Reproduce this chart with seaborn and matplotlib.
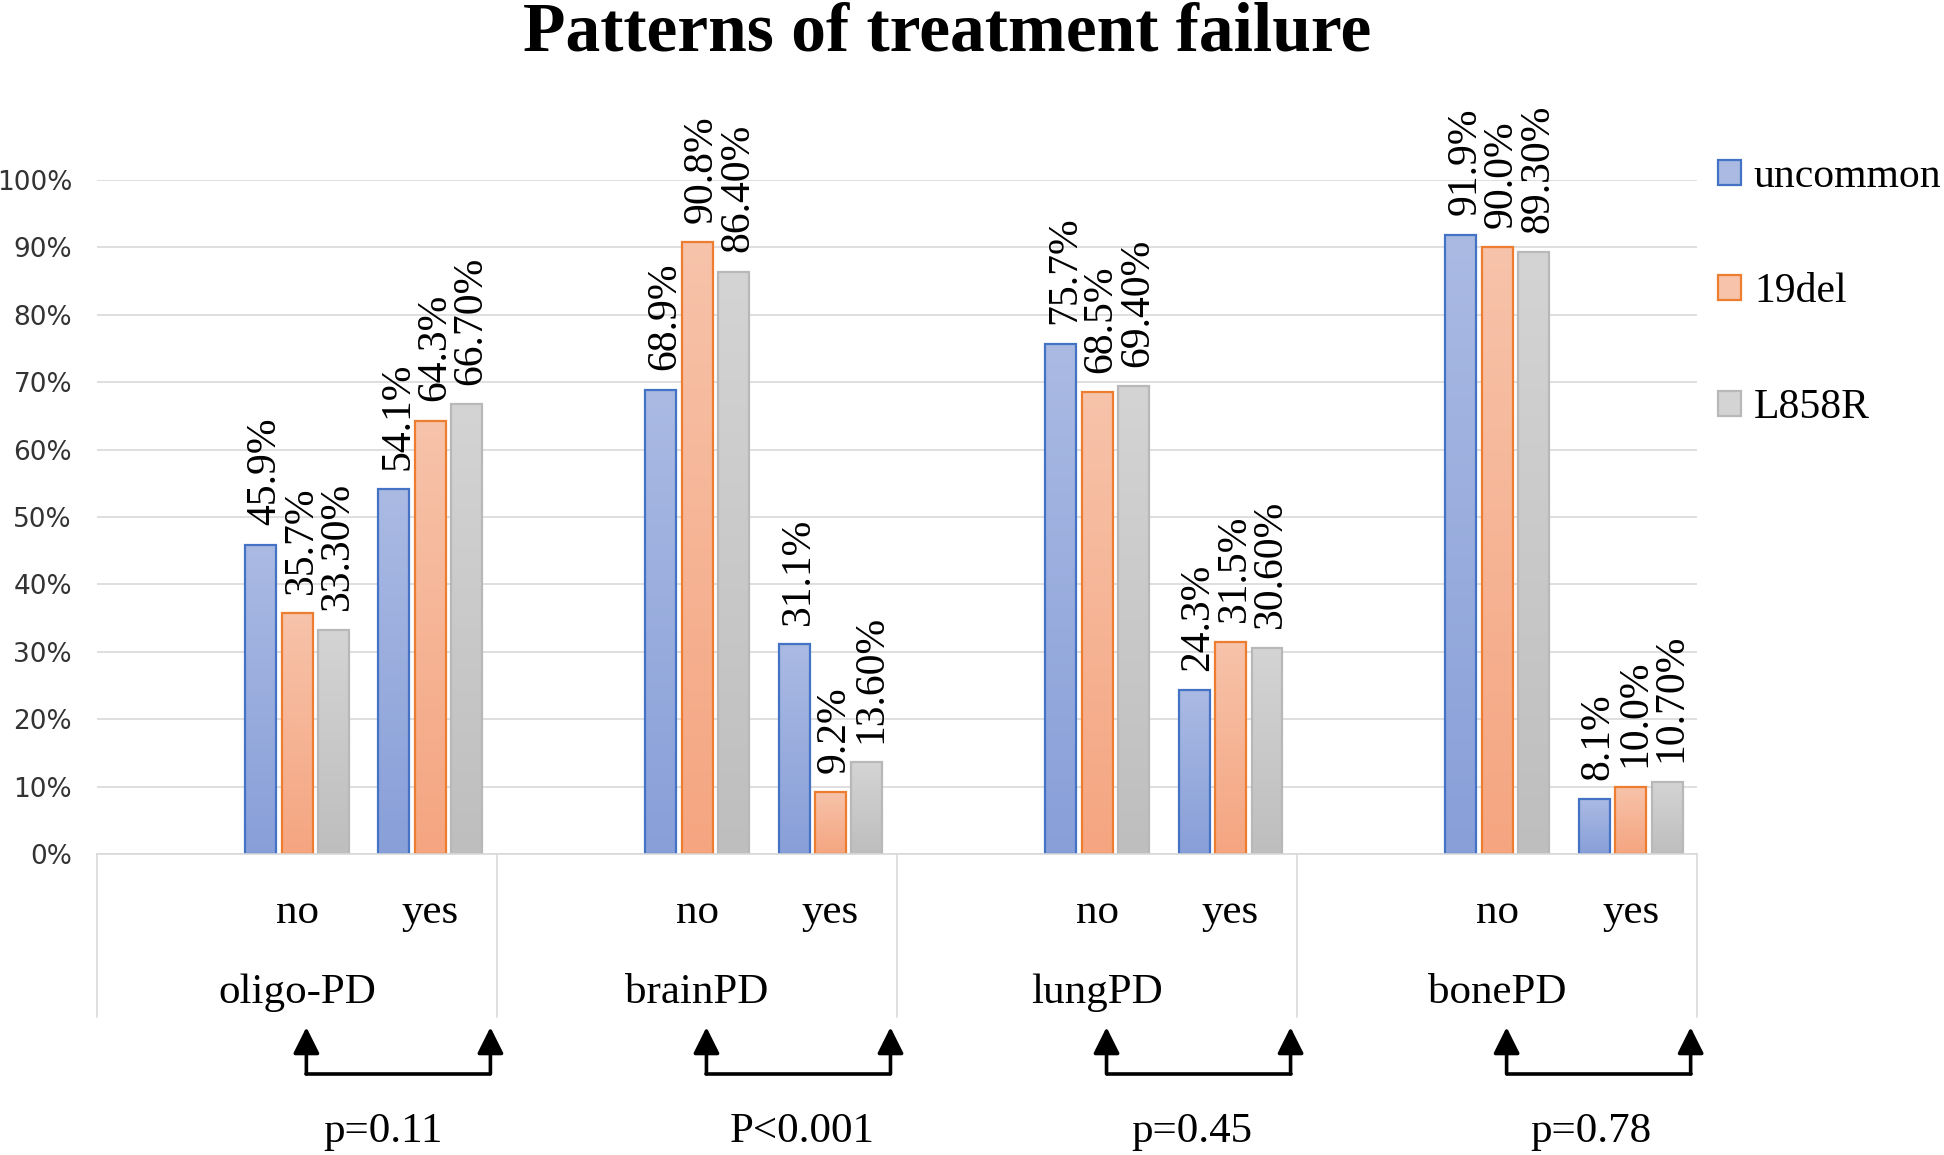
import numpy as np
import pandas as pd
import matplotlib
matplotlib.use("Agg")
import matplotlib.pyplot as plt
import seaborn as sns
from matplotlib.patches import Patch
from matplotlib.colors import LinearSegmentedColormap
from matplotlib.transforms import blended_transform_factory

# ---------------- data ----------------
groups = ["oligo-PD", "brainPD", "lungPD", "bonePD"]
subcats = ["no", "yes"]
series = ["uncommon", "19del", "L858R"]
uncommon = [45.9, 54.1, 68.9, 31.1, 75.7, 24.3, 91.9, 8.1]
del19 = [35.7, 64.3, 90.8, 9.2, 68.5, 31.5, 90.0, 10.0]
l858r = [33.3, 66.7, 86.4, 13.6, 69.4, 30.6, 89.3, 10.7]
label_decimals = [1, 1, 2]
p_labels = ["p=0.11", "P<0.001", "p=0.45", "p=0.78"]
yticks = [0, 10, 20, 30, 40, 50, 60, 70, 80, 90, 100]
title = "Patterns of treatment failure"

# colours: (top of gradient, bottom of gradient, edge)
grad_cols = [("#AABAE3", "#889FD8", "#4472C4"),
             ("#F7C3AA", "#F5A580", "#ED7D31"),
             ("#D4D4D4", "#BEBEBE", "#B8B8B8")]

SERIF = ["Liberation Serif", "DejaVu Serif"]

# ---------------- long table ----------------
order = []
for g in groups:
    order += [g + "|", g + "|no", g + "|yes"]
rows = []
for s, vals in zip(series, [uncommon, del19, l858r]):
    k = 0
    for g in groups:
        for sc in subcats:
            rows.append({"cat": g + "|" + sc, "series": s, "value": vals[k]})
            k += 1
df = pd.DataFrame(rows)

# ---------------- figure ----------------
sns.set_style("white")
plt.rcParams["font.family"] = SERIF
plt.rcParams["text.color"] = "black"

fig = plt.figure(figsize=(19.44, 11.55), dpi=100)
ax = fig.add_axes([0.0499, 0.2606, 0.8232, 0.5836])

mid_cols = [c[0] for c in grad_cols]
sns.barplot(data=df, x="cat", y="value", hue="series", order=order,
            hue_order=series, palette=mid_cols, width=0.82, gap=0.15,
            legend=False, ax=ax, errorbar=None, saturation=1)

# gradient fills + edges + value labels
for ci, cont in enumerate(ax.containers):
    top, bot, edge = grad_cols[ci]
    cmap = LinearSegmentedColormap.from_list("g%d" % ci, [bot, top])
    for bar in cont:
        h = bar.get_height()
        if not np.isfinite(h) or h <= 0:
            continue
        x0 = bar.get_x()
        w = bar.get_width()
        grad = np.linspace(0, 1, 256).reshape(-1, 1)
        im = ax.imshow(grad, cmap=cmap, origin="lower", aspect="auto",
                       extent=(x0, x0 + w, 0, h), zorder=1.5,
                       interpolation="bilinear")
        im.set_clip_path(bar)
        bar.set_facecolor("none")
        bar.set_edgecolor(edge)
        bar.set_linewidth(1.6)
        bar.set_zorder(2)
        fmt = "{:.%df}%%" % label_decimals[ci]
        ax.annotate(fmt.format(h), xy=(x0 + w / 2, h), xytext=(3, 14),
                    textcoords="offset points", rotation=90,
                    ha="center", va="bottom", fontsize=30,
                    family=SERIF, annotation_clip=False, color="black")

ax.set_xlim(-0.5, len(order) - 0.5)
ax.set_ylim(0, 100)
ax.set_yticks(yticks)
ax.set_yticklabels(["%d%%" % t for t in yticks],
                   fontsize=19, color="#333333", family="DejaVu Sans")
ax.tick_params(axis="y", length=0, pad=18)
ax.set_xticks([])
ax.set_xlabel("")
ax.set_ylabel("")
ax.yaxis.grid(True, color="#D9D9D9", linewidth=1.2)
ax.set_axisbelow(True)
for sp in ["top", "right", "left"]:
    ax.spines[sp].set_visible(False)
ax.spines["bottom"].set_color("#D9D9D9")
ax.spines["bottom"].set_linewidth(1.2)

tr = blended_transform_factory(ax.transData, ax.transAxes)

# category separators
for xs in np.arange(-0.5, len(order), 3):
    ax.plot([xs, xs], [0, -0.242], transform=tr, color="#D9D9D9",
            lw=1.2, clip_on=False)

p_offsets = [1.645, 1.79, 1.71, 1.70]

# sub-category and group labels
for gi, g in enumerate(groups):
    base = gi * 3
    ax.text(base + 1, -0.1024, "no", transform=tr, ha="center",
            va="baseline", fontsize=31, family=SERIF)
    ax.text(base + 2, -0.1024, "yes", transform=tr, ha="center",
            va="baseline", fontsize=31, family=SERIF)
    ax.text(base + 1, -0.221, g, transform=tr, ha="center",
            va="baseline", fontsize=31, family=SERIF)

    # comparison arrows
    xl, xr = base + 1.07, base + 2.45
    yh, yt = -0.326, -0.257
    ax.plot([xl, xr], [yh, yh], transform=tr, color="black", lw=2.6,
            clip_on=False, solid_joinstyle="round")
    for xx in (xl, xr):
        ax.annotate("", xy=(xx, yt), xytext=(xx, yh), xycoords=tr,
                    textcoords=tr, annotation_clip=False,
                    arrowprops=dict(arrowstyle="-|>,head_length=0.8,head_width=0.4",
                                    mutation_scale=20, lw=2.6, color="black",
                                    shrinkA=0, shrinkB=0))
    ax.text(base + p_offsets[gi], -0.427, p_labels[gi], transform=tr,
            ha="center", va="baseline", fontsize=31, family=SERIF)

# legend
handles = [Patch(facecolor=grad_cols[i][0], edgecolor=grad_cols[i][2],
                 linewidth=1.6, label=series[i]) for i in range(3)]
fig.legend(handles=handles, loc="center left",
           bbox_to_anchor=(0.884, 0.747), bbox_transform=fig.transFigure,
           frameon=False, prop={"family": SERIF, "size": 30},
           handlelength=0.55, handleheight=0.55,
           handletextpad=0.3, labelspacing=1.85, borderpad=0, borderaxespad=0)

# title
fig.text(0.487, 0.9567, title, ha="center", va="baseline",
         fontsize=50, fontweight="bold", family=SERIF, color="black")

fig.savefig("out.png", dpi=100)
